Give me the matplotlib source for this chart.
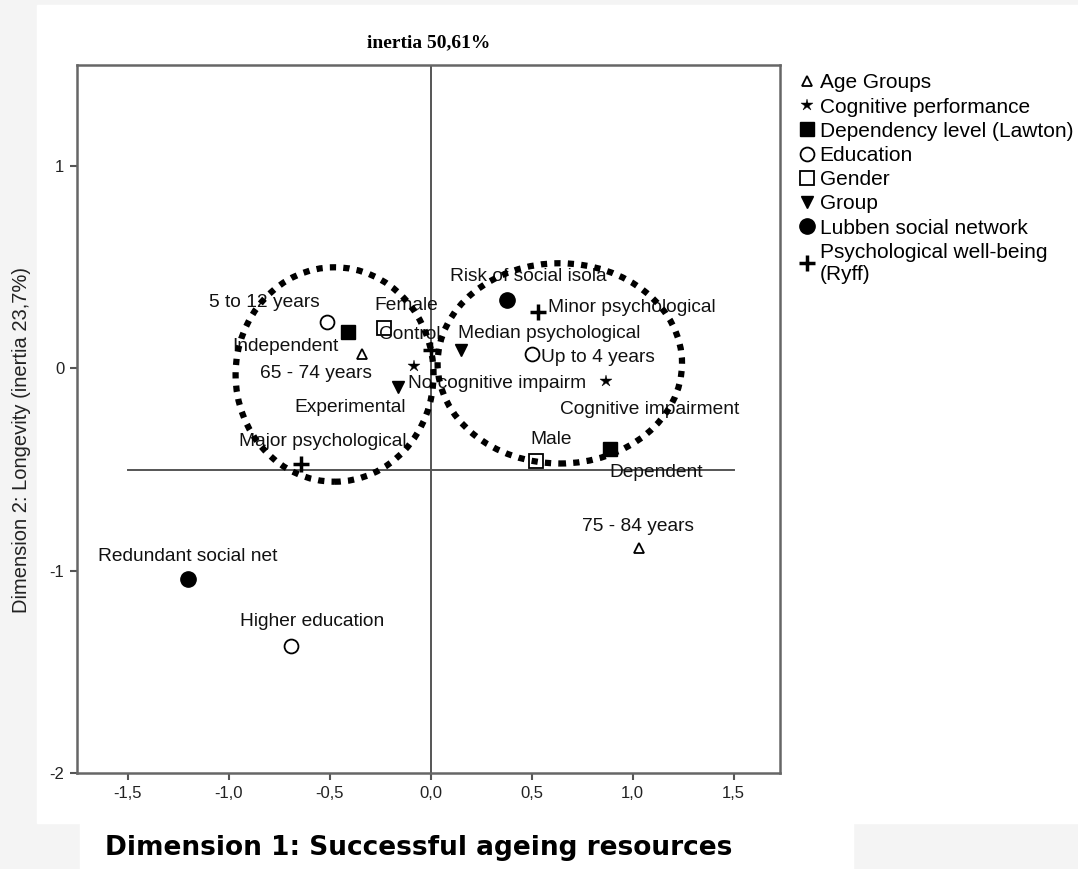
import matplotlib
matplotlib.use("Agg")
import matplotlib.pyplot as plt
from matplotlib.patches import Ellipse, Rectangle
from matplotlib.lines import Line2D

# Variables (legend order)
variables = ["Age Groups", "Cognitive performance", "Dependency level (Lawton)",
             "Education", "Gender", "Group", "Lubben social network",
             "Psychological well-being\n(Ryff)"]

# Category points: label, variable index, dimension 1, dimension 2
point_labels = ["65 - 74 years", "75 - 84 years",
                "No cognitive impairm", "Cognitive impairment",
                "Independent", "Dependent",
                "5 to 12 years", "Up to 4 years", "Higher education",
                "Female", "Male",
                "Control", "Experimental",
                "Risk of social isola", "Redundant social net",
                "Minor psychological", "Median psychological", "Major psychological"]
point_var = [0, 0, 1, 1, 2, 2, 3, 3, 3, 4, 4, 5, 5, 6, 6, 7, 7, 7]
dim1 = [-0.34, 1.03, -0.08, 0.87, -0.41, 0.89, -0.51, 0.50, -0.69,
        -0.23, 0.52, 0.15, -0.16, 0.38, -1.20, 0.53, 0.00, -0.64]
dim2 = [0.07, -0.89, 0.01, -0.06, 0.18, -0.40, 0.23, 0.07, -1.37,
        0.20, -0.46, 0.09, -0.09, 0.34, -1.04, 0.28, 0.09, -0.47]

xticks = [-1.5, -1.0, -0.5, 0.0, 0.5, 1.0, 1.5]
xtick_labels = ["-1,5", "-1,0", "-0,5", "0,0", "0,5", "1,0", "1,5"]
yticks = [1, 0, -1, -2]
ytick_labels = ["1", "0", "-1", "-2"]

# marker styles per variable
styles = [
    dict(marker="^", ms=7, mfc="white", mec="black", mew=1.3),
    dict(marker="*", ms=9, mfc="black", mec="black", mew=0.3),
    dict(marker="s", ms=10, mfc="black", mec="black", mew=1),
    dict(marker="o", ms=10, mfc="white", mec="black", mew=1.3),
    dict(marker="s", ms=10, mfc="white", mec="black", mew=1.3),
    dict(marker="v", ms=9, mfc="black", mec="black", mew=1),
    dict(marker="o", ms=11, mfc="black", mec="black", mew=1),
    dict(marker="+", ms=11, mfc="black", mec="black", mew=2.5),
]

# label offsets in pixels (dx, dy) relative to the point
label_offsets = [(-46, -19), (-1, 22), (83, -17), (43, -29), (-62, -14), (46, -23),
                 (-63, 19), (66, -3), (21, 24), (22, 22), (16, 22), (-51, 16),
                 (-48, -21), (21, 23), (0, 22), (94, 4), (119, 17), (22, 22)]

SANS = "Liberation Sans"

fig = plt.figure(figsize=(10.78, 8.69), dpi=100, facecolor="#f4f4f4")
fig.patches.append(Rectangle((37 / 1078, 1 - 823 / 869), 1 - 37 / 1078, 818 / 869,
                             transform=fig.transFigure, color="white", zorder=-10))
fig.patches.append(Rectangle((80 / 1078, 0), 773 / 1078, 46 / 869,
                             transform=fig.transFigure, color="white", zorder=-10))

ax = fig.add_axes([77 / 1078, 1 - 773 / 869, 703 / 1078, 708 / 869])
ax.set_xlim(-1.75, 1.73)
ax.set_ylim(-2.0, 1.5)

# reference lines
ax.axvline(0, color="#555555", lw=1.4, zorder=1)
ax.plot([-1.5, 1.5], [-0.5, -0.5], color="#555555", lw=1.4, zorder=1)

for i, lab in enumerate(point_labels):
    ax.plot(dim1[i], dim2[i], ls="none", zorder=3, **styles[point_var[i]])
    dx, dy = label_offsets[i]
    ax.annotate(lab, (dim1[i], dim2[i]), xytext=(dx, dy), textcoords="offset pixels",
                ha="center", va="center", fontsize=13.8, family=SANS, color="#111111",
                zorder=4)

# dotted circles
for c, w, h in [((-0.475, -0.03), 0.98, 1.06), ((0.64, 0.025), 1.21, 0.99)]:
    e = Ellipse(c, w, h, fill=False, edgecolor="black", lw=4.5,
                linestyle=(0, (1, 1.15)), zorder=5)
    e.set_capstyle("butt")
    ax.add_patch(e)

ax.set_xticks(xticks)
ax.set_xticklabels(xtick_labels, family=SANS, fontsize=12)
ax.set_yticks(yticks)
ax.set_yticklabels(ytick_labels, family=SANS, fontsize=12)
ax.tick_params(direction="out", length=5, width=1.5, color="#555555", labelcolor="#222222", pad=4)
for s in ax.spines.values():
    s.set_color("#666666")
    s.set_linewidth(1.8)

ax.set_title("inertia 50,61%", family="Liberation Serif", fontweight="bold",
             fontsize=14, pad=13)

handles = [Line2D([], [], ls="none", **st) for st in styles]
leg = ax.legend(handles, variables, loc="upper left", bbox_to_anchor=(1.015, 1.0),
                frameon=False, prop={"family": SANS, "size": 15}, handlelength=0.8,
                handletextpad=0.2, labelspacing=0.25, borderaxespad=0)

fig.text(22 / 1078, 1 - 440 / 869, "Dimension 2: Longevity (inertia 23,7%)", rotation=90,
         ha="center", va="center", family=SANS, fontsize=14.5, color="#222222")
fig.text(419 / 1078, 1 - 848 / 869, "Dimension 1: Successful ageing resources",
         ha="center", va="center", family="DejaVu Sans", fontweight="bold", fontsize=19)

fig.savefig("out.png", dpi=100, facecolor=fig.get_facecolor())
